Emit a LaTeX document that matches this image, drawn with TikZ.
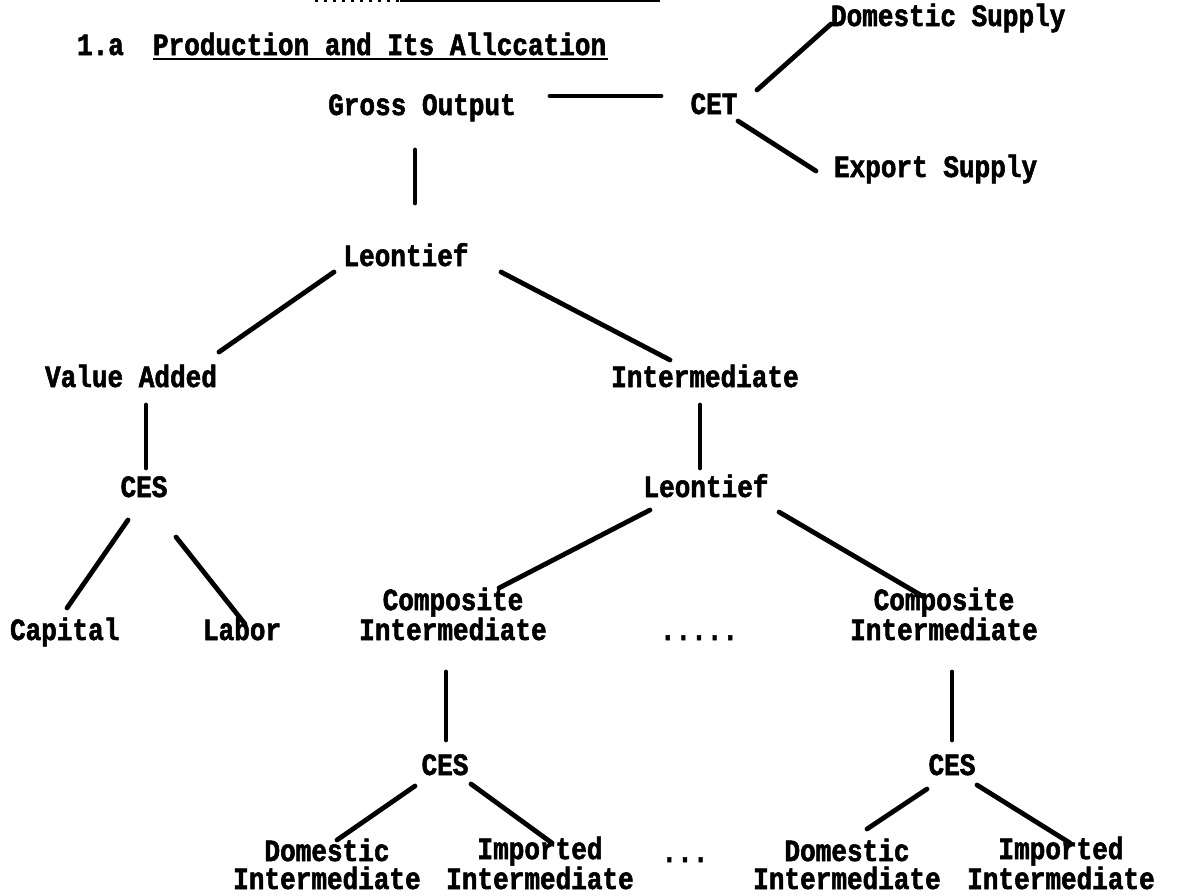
\documentclass[tikz,border=0pt]{standalone}
\usepackage{fontspec}
\newfontfamily\tw{Liberation Mono}[FakeStretch=0.84,FakeBold=1.8]
\tikzset{
  lbl/.style={inner sep=0pt, outer sep=0pt, font=\tw\bfseries\fontsize{31}{28}\selectfont, text height=19pt, text depth=6pt},
  lbltwo/.style={inner sep=0pt, outer sep=0pt, font=\tw\bfseries\fontsize{31}{28}\selectfont, align=center},
  conn/.style={line width=4.8pt, line cap=round},
}
\begin{document}
\begin{tikzpicture}[x=1pt,y=-1pt]
\useasboundingbox[fill=white] (0,0) rectangle (1178,895);
% cut-off remnant at top
\draw[line width=2pt] (400,1) -- (660,1);
\draw[line width=1.5pt, dash pattern=on 3pt off 6pt] (315,1) -- (400,1);
% heading
\node[lbl,anchor=base west] (h1) at (77,55) {1.a};
\node[lbl,anchor=base west] (h2) at (153,55) {Production and Its Allccation};
\draw[line width=2.5pt] ([shift={(0,4)}]h2.base west) -- ([shift={(2,4)}]h2.base east);
% top part
\node[lbl,anchor=base] (gross) at (422,115) {Gross Output};
\node[lbl,anchor=base] (cet) at (714,114) {CET};
\node[lbl,anchor=base west] (dsup) at (831,26) {Domestic Supply};
\node[lbl,anchor=base west] (esup) at (834,177) {Export Supply};
\node[lbl,anchor=base] (leon1) at (406,266) {Leontief};
\node[lbl,anchor=base] (va) at (131,387) {Value Added};
\node[lbl,anchor=base] (int) at (705,387) {Intermediate};
\node[lbl,anchor=base] (cesL) at (144,497) {CES};
\node[lbl,anchor=base] (leon2) at (706,497) {Leontief};
\node[lbl,anchor=base west] (capital) at (10,640) {Capital};
\node[lbl,anchor=base west] (labor) at (203,640) {Labor};
\node[lbltwo,anchor=base] (comp1) at (453,640) {Composite\\Intermediate};
\node[lbl,anchor=base] (dots1) at (699,640) {.....};
\node[lbltwo,anchor=base] (comp2) at (944,640) {Composite\\Intermediate};
\node[lbl,anchor=base] (cesB1) at (445,775) {CES};
\node[lbl,anchor=base] (cesB2) at (952,775) {CES};
\node[lbltwo,anchor=base] (di1) at (327,889) {Domestic\\Intermediate};
\node[lbltwo,anchor=base] (ii1) at (540,889) {Imported\\Intermediate};
\node[lbl,anchor=base] (dots2) at (685,862) {...};
\node[lbltwo,anchor=base] (di2) at (847,889) {Domestic\\Intermediate};
\node[lbltwo,anchor=base] (ii2) at (1061,889) {Imported\\Intermediate};
% connectors
\draw[conn] ([shift={(128,-19)}]gross.base) -- ([shift={(-53,-18)}]cet.base);
\draw[conn] ([shift={(43,-24)}]cet.base) -- ([shift={(0,-2)}]dsup.base west);
\draw[conn] ([shift={(24,7)}]cet.base) -- ([shift={(-18,-6)}]esup.base west);
\draw[conn] ([shift={(-7,35)}]gross.base) -- ([shift={(9,-63)}]leon1.base);
\draw[conn] ([shift={(-72,6)}]leon1.base) -- ([shift={(88,-35)}]va.base);
\draw[conn] ([shift={(95,6)}]leon1.base) -- ([shift={(-35,-27)}]int.base);
\draw[conn] ([shift={(-5,18)}]int.base) -- ([shift={(-6,-29)}]leon2.base);
\draw[conn] ([shift={(15,18)}]va.base) -- ([shift={(2,-29)}]cesL.base);
\draw[conn] ([shift={(-16,23)}]cesL.base) -- ([shift={(57,-32)}]capital.base west);
\draw[conn] ([shift={(32,40)}]cesL.base) -- ([shift={(42,-16)}]labor.base west);
\draw[conn] ([shift={(-56,13)}]leon2.base) -- ([shift={(46,-52)}]comp1.base);
\draw[conn] ([shift={(73,15)}]leon2.base) -- ([shift={(-20,-43)}]comp2.base);
\draw[conn] ([shift={(-7,32)}]comp1.base) -- ([shift={(1,-35)}]cesB1.base);
\draw[conn] ([shift={(8,32)}]comp2.base) -- ([shift={(0,-35)}]cesB2.base);
\draw[conn] ([shift={(-30,11)}]cesB1.base) -- ([shift={(10,-49)}]di1.base);
\draw[conn] ([shift={(26,9)}]cesB1.base) -- ([shift={(12,-46)}]ii1.base);
\draw[conn] ([shift={(-25,14)}]cesB2.base) -- ([shift={(20,-60)}]di2.base);
\draw[conn] ([shift={(25,10)}]cesB2.base) -- ([shift={(9,-46)}]ii2.base);
\end{tikzpicture}
\end{document}
